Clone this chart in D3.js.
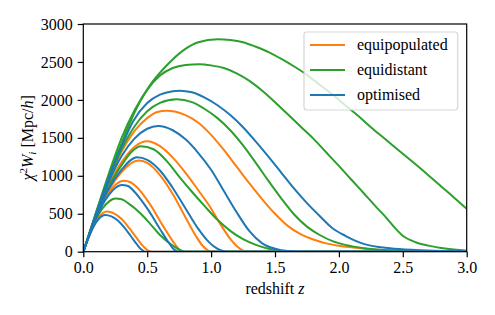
<!DOCTYPE html>
<html>
<head>
<meta charset="utf-8">
<script src="https://cdn.jsdelivr.net/npm/d3@7"></script>
<style>
  body { margin: 0; background: #fff; }
</style>
</head>
<body>
<svg id="chart" width="495" height="315"></svg>
<script>
// tick labels
const xTicks = [0, 0.5, 1.0, 1.5, 2.0, 2.5, 3.0];
const yTicks = [0, 500, 1000, 1500, 2000, 2500, 3000];

// chi^2 W_i per tomographic bin, [z, value]
const equipopulated = [
  [[0,0],[0.04,185],[0.08,345],[0.12,455],[0.185,530],[0.24,505],[0.30,430],[0.36,310],[0.42,175],[0.47,70],[0.51,12],[0.54,0],[3,0]],
  [[0,0],[0.05,235],[0.1,455],[0.15,640],[0.2,780],[0.25,880],[0.32,935],[0.37,915],[0.42,850],[0.52,630],[0.62,350],[0.7,140],[0.75,30],[0.78,0],[3,0]],
  [[0,0],[0.1,460],[0.2,810],[0.3,1050],[0.43,1200],[0.5,1170],[0.6,1010],[0.7,760],[0.8,450],[0.88,210],[0.93,85],[0.97,25],[1.0,0],[3,0]],
  [[0,0],[0.1,480],[0.2,880],[0.3,1180],[0.4,1380],[0.5,1455],[0.6,1390],[0.7,1240],[0.8,1040],[0.9,810],[1.0,570],[1.07,370],[1.15,170],[1.2,75],[1.25,15],[1.28,0],[3,0]],
  [[0,0],[0.1,495],[0.2,950],[0.3,1320],[0.4,1590],[0.5,1760],[0.58,1840],[0.65,1858],[0.8,1800],[0.9,1700],[1.0,1540],[1.1,1340],[1.2,1120],[1.3,900],[1.4,690],[1.5,500],[1.6,340],[1.7,230],[1.8,160],[1.9,110],[2.0,78],[2.2,40],[2.4,18],[2.6,8],[2.8,3],[3.0,1]]
];

const equidistant = [
  [[0,0],[0.05,230],[0.1,430],[0.15,570],[0.2,660],[0.25,700],[0.3,690],[0.35,640],[0.45,500],[0.52,374],[0.6,220],[0.7,80],[0.76,20],[0.8,0],[3,0]],
  [[0,0],[0.1,475],[0.2,860],[0.3,1140],[0.38,1320],[0.45,1390],[0.55,1350],[0.65,1200],[0.75,990],[0.85,790],[0.95,600],[1.05,420],[1.15,275],[1.25,165],[1.35,90],[1.45,40],[1.55,10],[1.65,0],[3,0]],
  [[0,0],[0.1,500],[0.2,960],[0.3,1350],[0.4,1650],[0.5,1850],[0.6,1960],[0.73,2008],[0.85,1970],[0.95,1880],[1.05,1760],[1.15,1600],[1.25,1400],[1.35,1170],[1.45,930],[1.55,700],[1.65,490],[1.75,330],[1.85,220],[1.95,140],[2.05,90],[2.2,45],[2.4,18],[2.6,6],[2.8,2],[3.0,0]],
  [[0,0],[0.1,510],[0.2,1000],[0.3,1430],[0.4,1830],[0.5,2130],[0.6,2320],[0.7,2420],[0.8,2460],[0.91,2470],[1.0,2455],[1.1,2420],[1.2,2350],[1.3,2250],[1.4,2120],[1.5,1970],[1.6,1810],[1.7,1650],[1.8,1490],[1.9,1310],[2.0,1130],[2.1,945],[2.2,760],[2.3,575],[2.38,430],[2.44,310],[2.5,210],[2.6,125],[2.7,80],[2.8,50],[2.9,28],[3.0,12]],
  [[0,0],[0.1,520],[0.2,1030],[0.3,1500],[0.4,1860],[0.52,2190],[0.65,2450],[0.78,2650],[0.9,2760],[1.05,2800],[1.15,2790],[1.25,2760],[1.35,2700],[1.45,2630],[1.55,2540],[1.65,2440],[1.75,2330],[1.85,2200],[1.95,2070],[2.05,1930],[2.15,1790],[2.25,1640],[2.35,1500],[2.5,1290],[2.65,1080],[2.8,860],[2.9,715],[3.0,565]]
];

const optimised = [
  [[0,0],[0.04,180],[0.08,330],[0.12,430],[0.17,484],[0.22,465],[0.27,410],[0.32,320],[0.37,210],[0.42,95],[0.45,35],[0.475,5],[0.49,0],[3,0]],
  [[0,0],[0.05,235],[0.1,450],[0.15,620],[0.2,750],[0.25,840],[0.3,880],[0.35,865],[0.4,790],[0.5,570],[0.6,300],[0.66,140],[0.71,30],[0.74,0],[3,0]],
  [[0,0],[0.1,470],[0.2,830],[0.3,1080],[0.42,1244],[0.5,1210],[0.6,1070],[0.7,840],[0.8,570],[0.9,300],[0.97,150],[1.03,60],[1.08,15],[1.12,0],[3,0]],
  [[0,0],[0.1,490],[0.2,920],[0.3,1260],[0.4,1490],[0.5,1620],[0.585,1657],[0.7,1600],[0.8,1480],[0.9,1300],[1.0,1080],[1.1,800],[1.2,520],[1.3,270],[1.4,110],[1.5,40],[1.6,8],[1.7,0],[3,0]],
  [[0,0],[0.1,500],[0.2,980],[0.3,1390],[0.39,1720],[0.5,1960],[0.6,2070],[0.7,2115],[0.754,2122],[0.85,2100],[0.95,2030],[1.05,1930],[1.15,1800],[1.25,1640],[1.35,1450],[1.45,1250],[1.55,1040],[1.65,830],[1.75,640],[1.85,470],[1.95,310],[2.05,210],[2.2,100],[2.4,45],[2.6,22],[2.8,10],[3.0,5]]
];

const series = [
  {name: "equipopulated", color: "#ff7f0e", bins: equipopulated},
  {name: "equidistant",   color: "#2ca02c", bins: equidistant},
  {name: "optimised",     color: "#1f77b4", bins: optimised}
];

const plotLeft = 83.3, plotRight = 466.7, plotTop = 24, plotBottom = 251.7;
const fs = 16;
const serif = '"Liberation Serif"';

const svg = d3.select("#chart");

const x = d3.scaleLinear().domain([0, 3]).range([plotLeft, plotRight]);
const y = d3.scaleLinear().domain([0, 3000]).range([plotBottom, plotTop]);

svg.append("defs").append("clipPath").attr("id", "plotclip")
  .append("rect")
    .attr("x", plotLeft).attr("y", plotTop)
    .attr("width", plotRight - plotLeft).attr("height", plotBottom - plotTop);

const line = d3.line()
  .x(d => x(d[0]))
  .y(d => y(d[1]))
  .curve(d3.curveMonotoneX);

const plot = svg.append("g").attr("clip-path", "url(#plotclip)");

series.forEach(s => {
  plot.append("g")
      .attr("fill", "none")
      .attr("stroke", s.color)
      .attr("stroke-width", 2)
    .selectAll("path")
    .data(s.bins)
    .join("path")
      .attr("d", line);
});

// axes
const xAxis = svg.append("g")
    .attr("transform", `translate(0,${plotBottom})`)
    .call(d3.axisBottom(x).tickValues(xTicks).tickFormat(d3.format(".1f"))
      .tickSize(5.6).tickPadding(4));
const yAxis = svg.append("g")
    .attr("transform", `translate(${plotLeft},0)`)
    .call(d3.axisLeft(y).tickValues(yTicks).tickFormat(d3.format("d"))
      .tickSize(5.6).tickPadding(5));

[xAxis, yAxis].forEach(a => {
  a.attr("font-family", null).attr("font-size", null);
  a.select(".domain").remove();
  a.selectAll(".tick line").attr("stroke", "#000").attr("stroke-width", 1.2);
  a.selectAll(".tick text")
    .attr("fill", "#000")
    .style("font-size", fs + "px")
    .style("font-family", serif);
});

// frame
svg.append("rect")
  .attr("x", plotLeft).attr("y", plotTop)
  .attr("width", plotRight - plotLeft).attr("height", plotBottom - plotTop)
  .attr("fill", "none")
  .attr("stroke", "#000")
  .attr("stroke-width", 1.2);

// axis labels
const xl = svg.append("text")
  .attr("x", (plotLeft + plotRight) / 2)
  .attr("y", 294)
  .attr("text-anchor", "middle")
  .style("font-family", serif)
  .style("font-size", fs + "px");
xl.append("tspan").text("redshift ");
xl.append("tspan").style("font-style", "italic").text("z");

const yl = svg.append("text")
  .attr("transform", `translate(33,${(plotTop + plotBottom) / 2}) rotate(-90)`)
  .attr("text-anchor", "middle")
  .style("font-family", serif)
  .style("font-size", fs + "px");
yl.append("tspan").style("font-style", "italic").text("χ");
yl.append("tspan").attr("dy", -6).style("font-size", "11px").text("2");
yl.append("tspan").attr("dy", 6).style("font-style", "italic").text("W");
yl.append("tspan").attr("dy", 3).style("font-style", "italic").style("font-size", "11px").text("i");
yl.append("tspan").attr("dy", -3).text(" [Mpc/");
yl.append("tspan").style("font-style", "italic").text("h");
yl.append("tspan").text("]");

// legend
const legend = svg.append("g");
legend.append("rect")
  .attr("x", 304).attr("y", 32)
  .attr("width", 153.7).attr("height", 78)
  .attr("rx", 3)
  .attr("fill", "#fff").attr("fill-opacity", 0.8)
  .attr("stroke", "#cccccc").attr("stroke-opacity", 0.8)
  .attr("stroke-width", 1.2);

const item = legend.selectAll("g.item")
  .data(series)
  .join("g")
    .attr("class", "item")
    .attr("transform", (d, i) => `translate(0,${45 + i * 25})`);
item.append("line")
  .attr("x1", 310).attr("x2", 345)
  .attr("stroke", d => d.color)
  .attr("stroke-width", 2);
item.append("text")
  .attr("x", 357)
  .attr("y", 5)
  .style("font-family", serif)
  .style("font-size", fs + "px")
  .text(d => d.name);
</script>
</body>
</html>
